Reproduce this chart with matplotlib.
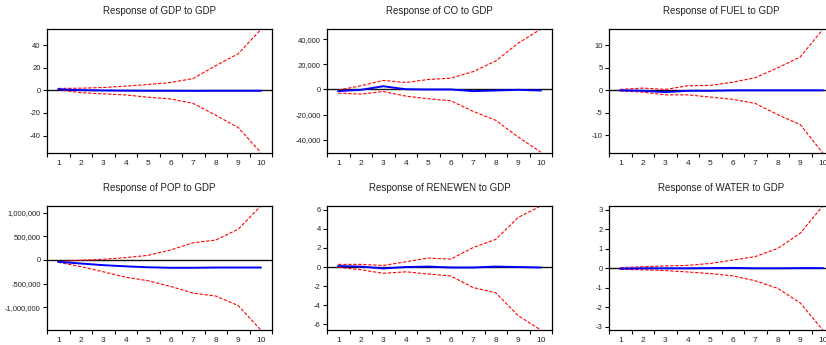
import matplotlib
matplotlib.use("Agg")
import matplotlib.pyplot as plt
from matplotlib.ticker import FuncFormatter, FixedLocator

plt.rcParams['font.family'] = ['Liberation Sans', 'DejaVu Sans']
plt.rcParams['axes.unicode_minus'] = False

periods = [1, 2, 3, 4, 5, 6, 7, 8, 9, 10]

# response of GDP to GDP
gdp_mid = [1.0, 0.3, 0.0, -0.2, -0.3, -0.3, -0.4, -0.3, -0.3, -0.3]
gdp_up = [1.8, 2.0, 2.6, 3.8, 5.3, 7.0, 10.6, 22.0, 32.6, 54.0]
gdp_lo = [0.6, -2.0, -3.0, -4.0, -6.0, -7.6, -11.5, -22.0, -33.0, -55.0]

# response of CO to GDP
co_mid = [-1300, -300, 2600, 200, 0, 0, -1300, -800, -300, -800]
co_up = [-500, 3000, 7200, 5600, 8000, 9000, 14300, 22800, 37000, 48200]
co_lo = [-2900, -3700, -1600, -5300, -7400, -9000, -17500, -24600, -38000, -50000]

# response of FUEL to GDP
fuel_mid = [0.0, -0.1, -0.4, -0.1, -0.1, 0.0, 0.0, 0.0, 0.0, 0.0]
fuel_up = [0.2, 0.5, 0.2, 1.0, 1.1, 1.8, 2.8, 5.0, 7.4, 13.5]
fuel_lo = [-0.15, -0.4, -1.0, -1.0, -1.5, -2.0, -2.9, -5.4, -7.6, -13.9]

# response of POP to GDP
pop_mid = [-40000, -75000, -110000, -135000, -155000, -165000, -165000, -160000, -160000, -160000]
pop_up = [-35000, -7000, 14000, 49000, 98000, 210000, 364000, 420000, 650000, 1140000]
pop_lo = [-49000, -140000, -250000, -364000, -440000, -560000, -700000, -762000, -965000, -1480000]

# response of RENEWEN to GDP
ren_mid = [0.1, 0.05, -0.15, 0.0, 0.05, -0.05, -0.05, 0.05, 0.0, -0.05]
ren_up = [0.28, 0.28, 0.17, 0.55, 0.94, 0.83, 2.05, 2.9, 5.2, 6.4]
ren_lo = [-0.03, -0.28, -0.66, -0.5, -0.73, -0.94, -2.15, -2.7, -5.1, -6.6]

# response of WATER to GDP
wat_mid = [-0.02, 0.0, 0.0, 0.0, 0.01, 0.02, 0.0, 0.0, 0.01, 0.01]
wat_up = [0.03, 0.08, 0.12, 0.15, 0.25, 0.42, 0.6, 1.02, 1.8, 3.2]
wat_lo = [-0.05, -0.08, -0.12, -0.19, -0.27, -0.39, -0.64, -1.03, -1.78, -3.17]

W, H = 826, 345
fig = plt.figure(figsize=(W / 100, H / 100), dpi=100)

panels = [
    ("Response of GDP to GDP", gdp_mid, gdp_up, gdp_lo, (-55.5, 54.5), [-40, -20, 0, 20, 40], 47, 29),
    ("Response of CO to GDP", co_mid, co_up, co_lo, (-50700, 48300), [-40000, -20000, 0, 20000, 40000], 327, 29),
    ("Response of FUEL to GDP", fuel_mid, fuel_up, fuel_lo, (-13.9, 13.6), [-10, -5, 0, 5, 10], 609, 29),
    ("Response of POP to GDP", pop_mid, pop_up, pop_lo, (-1480000, 1140000), [-1000000, -500000, 0, 500000, 1000000], 47, 206),
    ("Response of RENEWEN to GDP", ren_mid, ren_up, ren_lo, (-6.6, 6.4), [-6, -4, -2, 0, 2, 4, 6], 327, 206),
    ("Response of WATER to GDP", wat_mid, wat_up, wat_lo, (-3.17, 3.2), [-3, -2, -1, 0, 1, 2, 3], 609, 206),
]

aw, ah = 225, 124
txt = '#222222'

for title, mid, up, lo, ylim, yt, px, py in panels:
    ax = fig.add_axes([px / W, 1 - (py + ah) / H, aw / W, ah / H])
    ax.axhline(0, color='#111111', lw=1.0, zorder=1)
    ax.plot(periods, up, color='red', lw=0.8, ls=(0, (3, 1.5)), zorder=2)
    ax.plot(periods, lo, color='red', lw=0.8, ls=(0, (3, 1.5)), zorder=2)
    ax.plot(periods, mid, color='blue', lw=1.4, zorder=3)
    ax.set_xlim(0.5, 10.5)
    ax.set_ylim(*ylim)
    ax.set_xticks(periods)
    ax.set_xticklabels([str(p) for p in periods])
    ax.xaxis.set_minor_locator(FixedLocator([p + 0.5 for p in range(0, 11)]))
    ax.tick_params(axis='x', which='major', length=0, labelsize=6, pad=5, labelcolor=txt)
    ax.tick_params(axis='x', which='minor', length=3, width=0.8, direction='out')
    ax.set_yticks(yt)
    ax.yaxis.set_major_formatter(FuncFormatter(lambda v, pos: '{:,.0f}'.format(v)))
    ax.tick_params(axis='y', length=3, width=0.8, labelsize=5.5, pad=1.5, labelcolor=txt)
    for s in ax.spines.values():
        s.set_linewidth(0.9)
    ax.set_title(title, fontsize=7, pad=11, color=txt)

fig.savefig('out.png', dpi=100)
